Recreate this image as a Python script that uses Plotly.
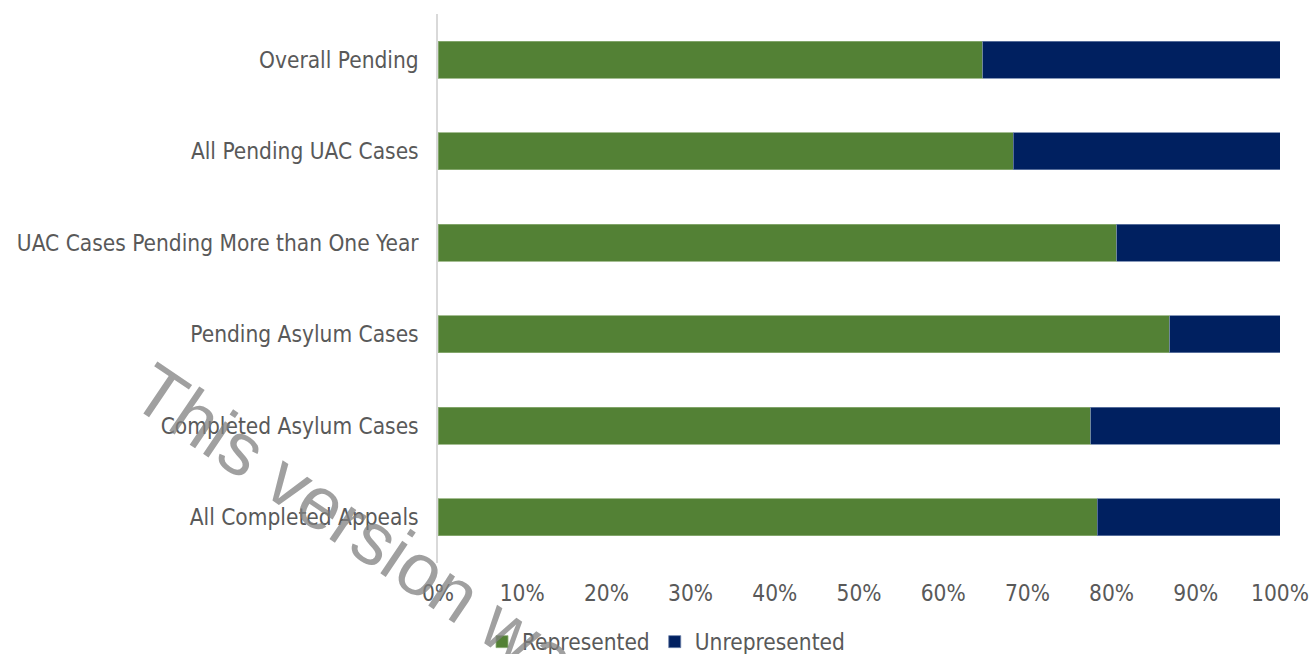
import plotly.graph_objects as go

categories = ["Overall Pending", "All Pending UAC Cases", "UAC Cases Pending More than One Year",
              "Pending Asylum Cases", "Completed Asylum Cases", "All Completed Appeals"]
represented = [64.7, 68.3, 80.6, 86.9, 77.5, 78.3]
unrepresented = [100 - v for v in represented]
x_ticks = [0, 10, 20, 30, 40, 50, 60, 70, 80, 90, 100]
x_tick_labels = [f"{t}%" for t in x_ticks]

FONT = "DejaVu Sans Condensed, Liberation Sans Narrow, sans-serif"

fig = go.Figure()
fig.add_trace(go.Bar(y=categories, x=represented, name="Represented", orientation="h",
                     marker=dict(color="#538135", line=dict(color="#8fae78", width=0.8))))
fig.add_trace(go.Bar(y=categories, x=unrepresented, name="Unrepresented", orientation="h",
                     marker=dict(color="#002060", line=dict(color="#6a7fa8", width=0.8))))

fig.update_layout(
    barmode="stack",
    bargap=0.6,
    width=1312, height=654,
    margin=dict(l=438, r=32, t=14, b=91, autoexpand=False),
    paper_bgcolor="white", plot_bgcolor="white",
    font=dict(family=FONT, size=22.5, color="#595959"),
    legend=dict(orientation="h", x=(666 - 438) / 842, xanchor="center",
                yref="container", y=12 / 654, yanchor="middle",
                font=dict(family=FONT, size=22.5, color="#595959"), traceorder="normal",
                itemwidth=30),
    showlegend=True,
)
fig.update_yaxes(autorange="reversed", showline=True, linecolor="#d9d9d9", linewidth=2,
                 ticks="", ticksuffix="  ", showgrid=False, automargin=False)
fig.update_xaxes(range=[0, 100], tickvals=x_ticks, ticktext=x_tick_labels, showgrid=False,
                 zeroline=False, showline=False, ticks="", automargin=False,
                 ticklabelstandoff=14)

fig.add_annotation(text="This version was", xref="paper", yref="paper",
                   x=(370 - 438) / 842, y=(563 - 535) / 549, xanchor="center", yanchor="middle",
                   textangle=34, showarrow=False,
                   font=dict(family="Liberation Sans, Arial, sans-serif", size=74,
                             color="rgba(128,128,128,0.75)"))

fig.write_html("out.html", config={"displayModeBar": False},
               post_script="document.body.style.margin='0';document.body.style.overflow='hidden';")
